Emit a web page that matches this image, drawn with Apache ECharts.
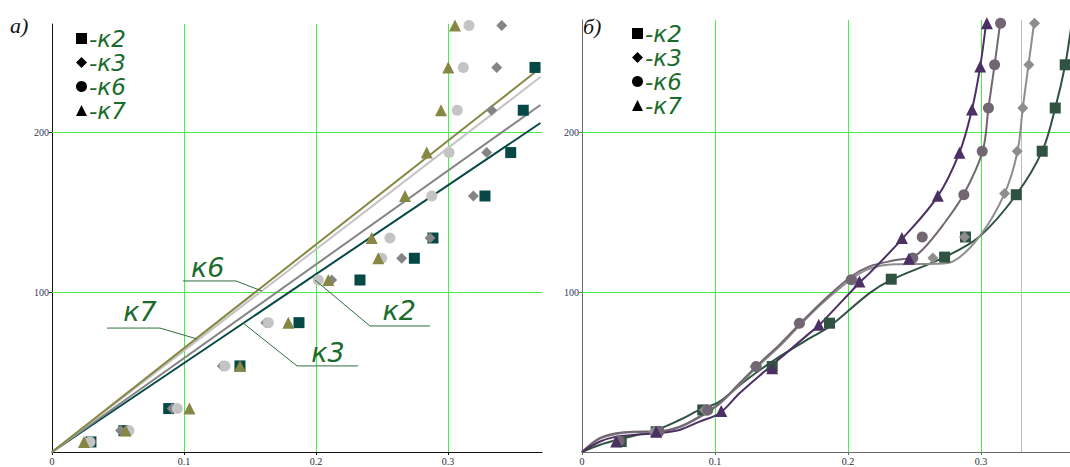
<!DOCTYPE html>
<html><head><meta charset="utf-8">
<script src="https://cdn.jsdelivr.net/npm/echarts@6/dist/echarts.min.js"></script>
<style>html,body{margin:0;padding:0;background:#fff}#c{width:1070px;height:467px}</style>
</head><body><div id="c"></div>
<script>
// ---------- data ----------
const seriesNames = ['к2', 'к3', 'к6', 'к7'];
const xTicks = [0, 0.1, 0.2, 0.3];
const xTickLabels = ['0', '0.1', '0.2', '0.3'];
const yTicks = [100, 200];
const yTickLabels = ['100', '200'];
const panelTitles = ['а)', 'б)'];

// panel а) measured points
const aK2 = [[0.0295,6.3],[0.0545,13.4],[0.0884,27.2],[0.1424,53.9],[0.1871,81],[0.2333,107.7],[0.2745,121.3],[0.2886,134],[0.328,160.3],[0.3475,187.5],[0.357,214],[0.3659,240.8],[0.372,267]];
const aK3 = [[0.027,6.3],[0.052,13.4],[0.091,27.2],[0.129,53.9],[0.162,81],[0.2119,107.7],[0.2649,121.3],[0.2864,134],[0.3192,160.3],[0.3293,187.5],[0.3331,214],[0.3369,240.8],[0.3407,267]];
const aK6 = [[0.0288,6.3],[0.0583,13.4],[0.0949,27.2],[0.131,53.9],[0.1639,81],[0.2017,107.7],[0.2498,121.3],[0.256,134],[0.2877,160.3],[0.3008,187.5],[0.307,214],[0.3116,240.8],[0.3159,267]];
const aK7 = [[0.0242,6.3],[0.0558,13.4],[0.1041,27.2],[0.1424,53.9],[0.179,81],[0.2093,107.7],[0.2472,121.3],[0.2422,134],[0.2674,160.3],[0.2839,187.5],[0.2947,214],[0.3002,240.8],[0.3053,267]];
// panel а) straight approximations
const aK2Line = [[0,0],[0.37,206]];
const aK3Line = [[0,0],[0.37,217.3]];
const aK6Line = [[0,0],[0.37,234.8]];
const aK7Line = [[0,0],[0.37,240.4]];

// panel б) measured points
const bK2 = [[0.0295,6.5],[0.0558,12.7],[0.0908,26.3],[0.143,53.4],[0.1861,80.5],[0.2325,108],[0.2726,121.8],[0.2883,134.4],[0.3265,160.8],[0.346,188],[0.3558,215],[0.3633,242]];
const bK3 = [[0.027,6.5],[0.054,12.7],[0.092,26.3],[0.13,53.4],[0.163,80.5],[0.204,107.6],[0.2638,121.2],[0.2876,134.4],[0.3177,161.5],[0.3272,188],[0.3314,215],[0.336,242],[0.3402,268]];
const bK6 = [[0.028,7],[0.058,13],[0.0946,26.3],[0.131,53.4],[0.1635,80.5],[0.2024,107.6],[0.2487,121.2],[0.2558,134.4],[0.2871,160.8],[0.3009,188],[0.3056,215],[0.3102,242],[0.3147,268]];
const bK7 = [[0.0257,6.5],[0.0558,12.7],[0.1047,25.7],[0.143,52.4],[0.178,79.5],[0.2086,106.6],[0.2458,120.8],[0.2405,133.7],[0.2675,160.2],[0.2838,187],[0.2932,214],[0.2994,241],[0.3044,268]];
// panel б) fitted curves (read off the picture)
const bK2Curve = [[0,0],[0.0132,4.4],[0.0257,7.5],[0.0382,10],[0.0558,13.8],[0.0733,20],[0.0883,26.3],[0.1034,31.5],[0.1235,45],[0.1485,59.6],[0.1735,72.2],[0.1861,78.4],[0.2162,99.3],[0.2325,107.6],[0.2726,121.8],[0.2989,134.7],[0.3265,160.8],[0.346,188],[0.3558,215],[0.3633,242],[0.368,267]];
const bK3Curve = [[0,0],[0.0132,8.2],[0.0257,11.2],[0.0382,12.3],[0.0558,12.5],[0.0733,15.4],[0.0883,21.6],[0.1034,30],[0.1184,42.2],[0.1335,54.6],[0.1485,66],[0.163,78.5],[0.18,92.5],[0.2024,108],[0.216,114.5],[0.235,117.3],[0.2665,117.6],[0.2786,119],[0.2989,134.7],[0.3177,161.5],[0.3274,187.7],[0.3314,215],[0.3357,242],[0.3402,270]];
const bK6Curve = [[0,0],[0.0132,8.6],[0.0257,11.7],[0.0382,12.7],[0.0558,12.8],[0.0733,15.8],[0.0883,22.1],[0.1034,30.5],[0.1184,43],[0.1335,55.5],[0.1485,67],[0.163,79.5],[0.18,93.5],[0.2024,109.7],[0.2162,116],[0.235,119.8],[0.2485,121.8],[0.256,126.4],[0.2715,142],[0.2868,160.8],[0.3011,187.7],[0.3056,215],[0.3102,242],[0.3147,270]];
const bK7Curve = [[0,0],[0.0132,6.4],[0.0257,9.6],[0.0382,10.6],[0.0558,11.7],[0.0733,13.8],[0.0883,19],[0.1034,24.2],[0.1184,36.7],[0.1385,51.3],[0.1535,61.8],[0.1711,74.3],[0.1786,79.5],[0.2086,105.8],[0.2162,111.8],[0.2402,132.7],[0.2673,159.6],[0.2838,187.1],[0.2932,214],[0.2994,241],[0.3041,270]];

// gridline positions
const gridX = [0.1, 0.2, 0.3];
const gridY = [100, 200];
const greyX = [0.333];

// ---------- styles ----------
const symbols = ['rect', 'diamond', 'circle', 'triangle'];
const symSizes = [11, 11, 11, 12];
const colorsA = ['#064845', '#858585', '#c4c4c4', '#878745'];
const colorsB = ['#2f5241', '#8d8d8d', '#736673', '#4b3163'];
const green = '#1a6b2c';
const gridGreen = '#45f045';

const chart = echarts.init(document.getElementById('c'), null, {renderer: 'svg'});

function xAxisOf(gi, max, axisColor) {
  return {
    type: 'value', gridIndex: gi, min: 0, max: max,
    axisLine: {show: true, onZero: false, lineStyle: {color: axisColor, width: 1}},
    axisTick: {show: true, customValues: xTicks, length: 3, lineStyle: {color: axisColor}},
    axisLabel: {customValues: xTicks, margin: 4, fontSize: 10, fontFamily: 'Liberation Serif', color: '#2a2a3a',
      formatter: v => { const i = xTicks.findIndex(t => Math.abs(t - v) < 1e-9); return i >= 0 ? xTickLabels[i] : ''; }},
    splitLine: {show: false}
  };
}
function yAxisOf(gi, max, axisColor) {
  return {
    type: 'value', gridIndex: gi, min: 0, max: max,
    axisLine: {show: true, onZero: false, lineStyle: {color: axisColor, width: 1}},
    axisTick: {show: true, customValues: yTicks, length: 3, lineStyle: {color: axisColor}},
    axisLabel: {customValues: yTicks, margin: 3, fontSize: 10, fontFamily: 'Liberation Serif', color: '#2a3a5a',
      formatter: v => { const i = yTicks.indexOf(v); return i >= 0 ? yTickLabels[i] : ''; }},
    splitLine: {show: false}
  };
}
function gridMarkLine(extraGrey) {
  const d = gridX.map(v => ({xAxis: v})).concat(gridY.map(v => ({yAxis: v})));
  const grey = extraGrey ? greyX.map(v => ({xAxis: v, lineStyle: {color: '#bdbdbd', width: 1}})) : [];
  return {silent: true, symbol: 'none', z: 1, animation: false, label: {show: false},
    lineStyle: {color: gridGreen, type: 'solid', width: 1}, emphasis: {disabled: true},
    data: d.concat(grey)};
}
function scatter(name, data, i, gi, colors) {
  return {name: name, type: 'scatter', xAxisIndex: gi, yAxisIndex: gi, data: data, z: 4,
    symbol: symbols[i], symbolSize: symSizes[i], itemStyle: {color: colors[i], opacity: 1}, clip: true, silent: true};
}
function line(name, data, i, gi, colors, smooth) {
  return {name: name, type: 'line', xAxisIndex: gi, yAxisIndex: gi, data: data, z: 3,
    showSymbol: false, symbol: 'none', smooth: smooth, clip: true, silent: true,
    lineStyle: {color: colors[i], width: 2}};
}

const aPts = [aK2, aK3, aK6, aK7];
const aLines = [aK2Line, aK3Line, aK6Line, aK7Line];
const bPts = [bK2, bK3, bK6, bK7];
const bCurves = [bK2Curve, bK3Curve, bK6Curve, bK7Curve];

const series = [];
// helper series holding gridlines
series.push({type: 'line', xAxisIndex: 0, yAxisIndex: 0, data: [], markLine: gridMarkLine(false)});
series.push({type: 'line', xAxisIndex: 1, yAxisIndex: 1, data: [], markLine: gridMarkLine(true)});
aLines.forEach((d, i) => series.push(line(seriesNames[i] + ' а', d, i, 0, colorsA, false)));
bCurves.forEach((d, i) => series.push(line(seriesNames[i] + ' б', d, i, 1, colorsB, 0.35)));
aPts.forEach((d, i) => series.push(scatter(seriesNames[i], d, i, 0, colorsA)));
bPts.forEach((d, i) => series.push(scatter(seriesNames[i], d, i, 1, colorsB)));

function legendOf(left, top) {
  return {
    left: left, top: top, orient: 'vertical', padding: 0, itemGap: 1, itemWidth: 11, itemHeight: 11,
    selectedMode: false, inactiveColor: '#000',
    textStyle: {fontSize: 23, fontStyle: 'italic', fontFamily: 'DejaVu Sans', color: green, lineHeight: 23, padding: [0, 0, 0, -3]},
    formatter: n => '-' + n,
    data: seriesNames.map((n, i) => ({name: n, icon: symbols[i], itemStyle: {color: '#000'}}))
  };
}

chart.setOption({
  animation: false,
  backgroundColor: '#fff',
  grid: [
    {left: 52, top: 24, width: 490, height: 428},
    {left: 582, top: 20, width: 488, height: 432}
  ],
  xAxis: [xAxisOf(0, 0.3712, '#111'), xAxisOf(1, 0.3669, '#6a6a6a')],
  yAxis: [yAxisOf(0, 268, '#111'), yAxisOf(1, 270, '#6a6a6a')],
  legend: [legendOf(76, 27), legendOf(632, 22)],
  series: series
});

// ---------- annotations on panel а) (data coordinates) ----------
const annotations = [
  {label: 'к6', at: [0.118, 115.5], leader: [[0.0992,107.1],[0.1394,107.1],[0.1591,100.8]]},
  {label: 'к7', at: [0.0667, 88], leader: [[0.0417,77.6],[0.0818,77.6],[0.1098,70.8]]},
  {label: 'к2', at: [0.263, 88.3], leader: [[0.1992,107.7],[0.2409,78.9],[0.2864,78.9]]},
  {label: 'к3', at: [0.2091, 62.6], leader: [[0.1447,80.8],[0.1856,53.9],[0.2318,53.9]]}
];
const px = p => chart.convertToPixel({gridIndex: 0}, p);
const graphics = [];
annotations.forEach(a => {
  graphics.push({type: 'polyline', silent: true, z: 5, shape: {points: a.leader.map(px)},
    style: {stroke: '#2e6e3e', lineWidth: 1, fill: null}});
  const c = px(a.at);
  graphics.push({type: 'text', silent: true, z: 6, x: c[0], y: c[1],
    style: {text: a.label, fill: green, font: 'italic 27px "DejaVu Sans"', align: 'center', verticalAlign: 'middle'}});
});
const gr0 = chart.convertToPixel({gridIndex: 0}, [0, 268]);
const gr1 = chart.convertToPixel({gridIndex: 1}, [0, 270]);
graphics.push({type: 'text', silent: true, x: gr0[0] - 42, y: gr0[1] - 10,
  style: {text: panelTitles[0], fill: '#111', font: 'italic 22px "Liberation Serif"'}});
graphics.push({type: 'text', silent: true, x: gr1[0] + 1, y: gr1[1] - 5,
  style: {text: panelTitles[1], fill: '#111', font: 'italic 22px "Liberation Serif"'}});
chart.setOption({graphic: graphics});
</script>
</body></html>
